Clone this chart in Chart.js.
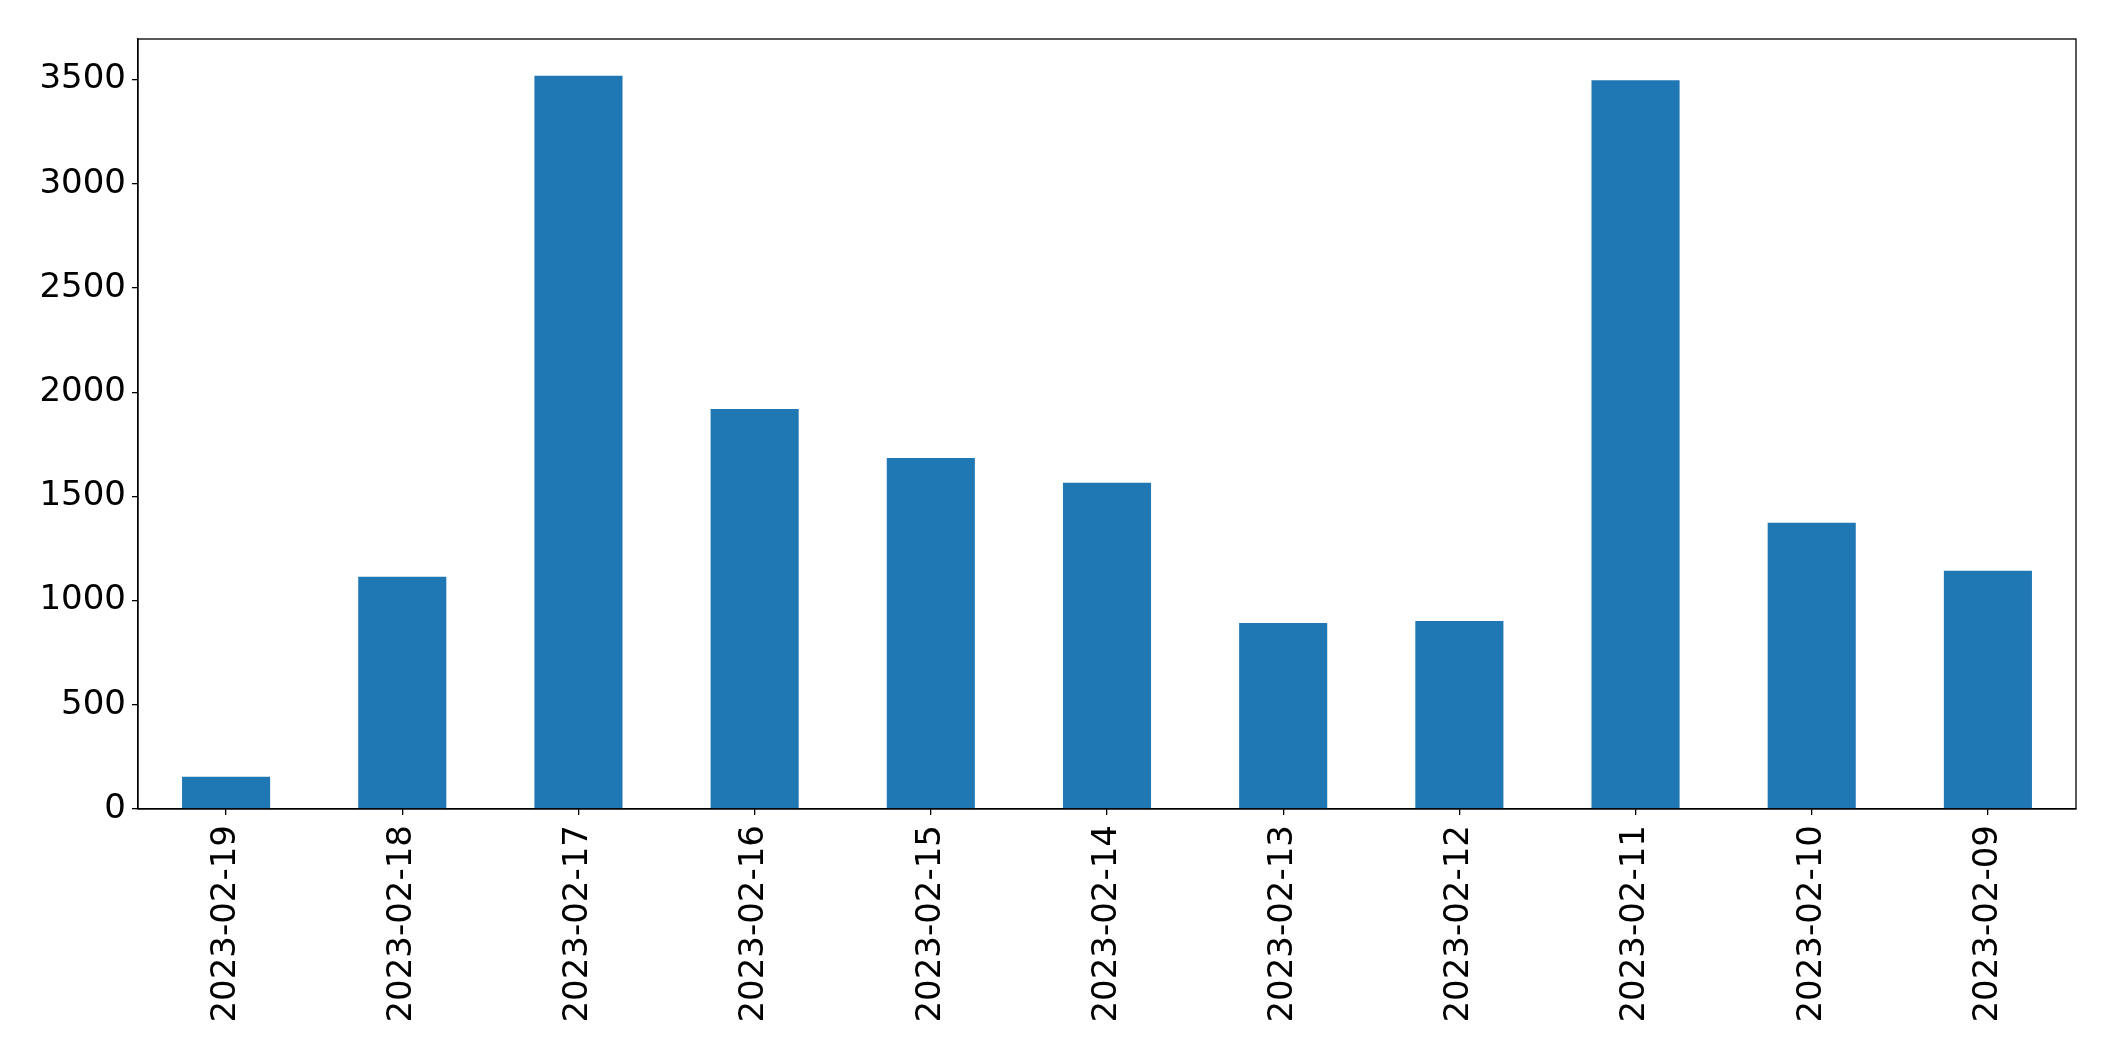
<!DOCTYPE html>
<html>
<head>
<meta charset="utf-8">
<script src="https://cdn.jsdelivr.net/npm/chart.js@4/dist/chart.umd.min.js"></script>
<style>
  html, body { margin: 0; padding: 0; background: #fff; }
  #c { display: block; }
</style>
</head>
<body>
<canvas id="c" width="2115" height="1061"></canvas>
<script>
const categories = ["2023-02-19", "2023-02-18", "2023-02-17", "2023-02-16", "2023-02-15", "2023-02-14", "2023-02-13", "2023-02-12", "2023-02-11", "2023-02-10", "2023-02-09"];
const values = [155, 1114, 3519, 1920, 1684, 1566, 892, 902, 3497, 1374, 1143];
const yTicks = [0, 500, 1000, 1500, 2000, 2500, 3000, 3500];
const yMax = 3695;

const frame = {
  id: 'frame',
  afterDraw(chart) {
    const a = chart.chartArea, ctx = chart.ctx;
    ctx.save();
    ctx.strokeStyle = '#000';
    ctx.lineWidth = 1.3;
    ctx.strokeRect(a.left, a.top, a.right - a.left, a.bottom - a.top);
    ctx.restore();
  }
};

new Chart(document.getElementById('c'), {
  type: 'bar',
  data: {
    labels: categories,
    datasets: [{
      data: values,
      backgroundColor: '#1f77b4',
      borderWidth: 0,
      barPercentage: 0.5,
      categoryPercentage: 1.0
    }]
  },
  options: {
    responsive: false,
    animation: false,
    devicePixelRatio: 1,
    layout: { padding: { top: 39, right: 39, left: 0, bottom: 0 } },
    plugins: { legend: { display: false }, tooltip: { enabled: false } },
    scales: {
      x: {
        offset: true,
        grid: { display: true, drawOnChartArea: false, drawTicks: true, tickLength: 6, color: '#000', lineWidth: 1.3, offset: false },
        border: { display: true, color: '#000', width: 1.3 },
        ticks: {
          color: '#000',
          font: { family: 'DejaVu Sans', size: 34 },
          minRotation: 90, maxRotation: 90,
          padding: 10,
          autoSkip: false
        },
        afterFit(scale) { scale.height = 252; }
      },
      y: {
        min: 0,
        max: yMax,
        grid: { display: true, drawOnChartArea: false, drawTicks: true, tickLength: 6, color: '#000', lineWidth: 1.3 },
        border: { display: true, color: '#000', width: 1.3 },
        ticks: {
          color: '#000',
          font: { family: 'DejaVu Sans', size: 34 },
          padding: 6,
          callback: (v) => String(v)
        },
        afterBuildTicks(scale) { scale.ticks = yTicks.map(v => ({ value: v })); },
        afterFit(scale) { scale.width = 138; }
      }
    }
  },
  plugins: [frame]
});
</script>
</body>
</html>
